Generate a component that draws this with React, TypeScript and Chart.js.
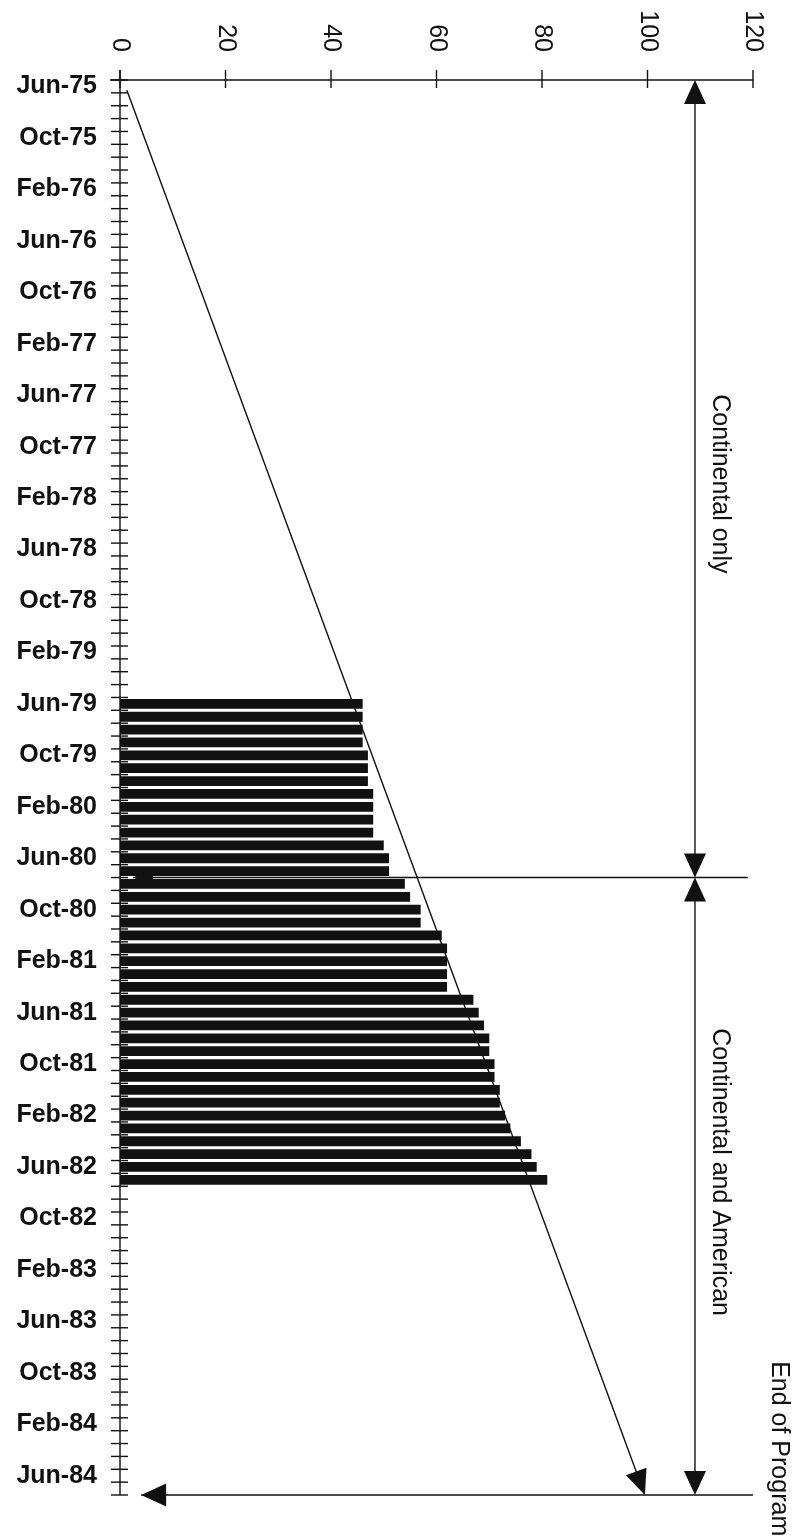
import React, { useEffect, useRef } from 'react';
import { Chart, registerables } from 'chart.js';

Chart.register(...registerables);

// ---- data ----
const MONTH_NAMES = ['Jan', 'Feb', 'Mar', 'Apr', 'May', 'Jun', 'Jul', 'Aug', 'Sep', 'Oct', 'Nov', 'Dec'];
const FIRST_MONTH = 5; // June
const FIRST_YEAR = 75;
const MONTH_COUNT = 110; // Jun-75 .. Jul-84
const months: string[] = [];
for (let i = 0; i < MONTH_COUNT; i++) {
  const k = FIRST_MONTH + i;
  months.push(`${MONTH_NAMES[k % 12]}-${FIRST_YEAR + Math.floor(k / 12)}`);
}
const LABEL_EVERY = 4;

const barStartMonth = 'Jun-79';
const barValues = [
  46, 46, 46, 46, 47, 47, 47, 48, 48, 48, 48, 50, 51, 51, 54, 55, 57, 57, 61,
  62, 62, 62, 62, 67, 68, 69, 70, 70, 71, 71, 72, 72, 73, 74, 76, 78, 79, 81,
];

const xTicks = [0, 20, 40, 60, 80, 100, 120];

// straight-line target (value, month index on the time axis)
const targetLine = [
  { x: 1.3, y: 0.3 },
  { x: 99.5, y: 109.5 },
];

// phase annotations (time axis positions in month-index units)
const phaseSplit = 61.5; // between Jul-80 and Aug-80
const programEnd = 109.5;
const phaseArrowX = 109;
const phaseLabels = [
  { text: 'Continental only', x: 113.7, y: 30.9 },
  { text: 'Continental and American', x: 113.7, y: 84.4 },
  { text: 'End of Program', x: 124.9, y: 105.9 },
];

const INK = '#111111';
const FONT = "'Liberation Sans', Arial, Helvetica, sans-serif";

function arrowHead(ctx: CanvasRenderingContext2D, tx: number, ty: number, fx: number, fy: number, len: number, wid: number) {
  const dx = tx - fx;
  const dy = ty - fy;
  const d = Math.hypot(dx, dy) || 1;
  const ux = dx / d;
  const uy = dy / d;
  const bx = tx - ux * len;
  const by = ty - uy * len;
  const nx = -uy * (wid / 2);
  const ny = ux * (wid / 2);
  ctx.beginPath();
  ctx.moveTo(tx, ty);
  ctx.lineTo(bx + nx, by + ny);
  ctx.lineTo(bx - nx, by - ny);
  ctx.closePath();
  ctx.fill();
}

const annotationPlugin = {
  id: 'annotations',
  afterDatasetsDraw(chart: any) {
    const ctx: CanvasRenderingContext2D = chart.ctx;
    const xs = chart.scales.x;
    const ys = chart.scales.y;
    const X = (v: number) => xs.getPixelForValue(v);
    const Y = (v: number) => ys.getPixelForValue(v);
    const seg = (x1: number, y1: number, x2: number, y2: number) => {
      ctx.beginPath();
      ctx.moveTo(x1, y1);
      ctx.lineTo(x2, y2);
      ctx.stroke();
    };
    ctx.save();
    ctx.strokeStyle = INK;
    ctx.fillStyle = INK;
    ctx.lineWidth = 1.4;

    const top = Y(-0.5);
    const x0 = X(0);
    // top value axis
    seg(x0 - 10, top, X(120), top);
    xTicks.forEach((v) => seg(X(v), top - 10, X(v), top + 8));
    // left time axis with month ticks
    seg(x0, top - 10, x0, Y(programEnd));
    for (let i = 0; i <= months.length; i++) {
      const yy = Y(i - 0.5);
      seg(x0 - 9, yy, x0 + 8, yy);
    }
    // value tick labels (rotated)
    ctx.font = `25px ${FONT}`;
    ctx.textAlign = 'right';
    ctx.textBaseline = 'middle';
    xTicks.forEach((v) => {
      ctx.save();
      ctx.translate(X(v), top - 28);
      ctx.rotate(Math.PI / 2);
      ctx.fillText(String(v), 0, 0);
      ctx.restore();
    });

    // target arrow head
    const p0 = targetLine[0];
    const p1 = targetLine[targetLine.length - 1];
    arrowHead(ctx, X(p1.x), Y(p1.y), X(p0.x), Y(p0.y), 25, 22);

    // phase split line with left arrow
    const ySplit = Y(phaseSplit);
    seg(X(2.5), ySplit, X(119), ySplit);
    arrowHead(ctx, X(2.5), ySplit, X(10), ySplit, 20, 18);

    // end-of-program line with left arrow
    const yEnd = Y(programEnd);
    seg(X(4), yEnd, X(120), yEnd);
    arrowHead(ctx, X(4), yEnd, X(12), yEnd, 25, 23);

    // double-headed phase arrows
    const ax = X(phaseArrowX);
    seg(ax, top + 10, ax, ySplit - 10);
    arrowHead(ctx, ax, top, ax, top + 30, 24, 22);
    arrowHead(ctx, ax, ySplit, ax, ySplit - 30, 24, 22);
    seg(ax, ySplit + 10, ax, yEnd - 10);
    arrowHead(ctx, ax, ySplit, ax, ySplit + 30, 24, 22);
    arrowHead(ctx, ax, yEnd, ax, yEnd - 30, 24, 22);

    // phase labels (rotated)
    ctx.textAlign = 'center';
    phaseLabels.forEach((l) => {
      ctx.save();
      ctx.translate(X(l.x), Y(l.y));
      ctx.rotate(Math.PI / 2);
      ctx.fillText(l.text, 0, 0);
      ctx.restore();
    });
    ctx.restore();
  },
};

export default function App() {
  const ref = useRef<HTMLCanvasElement | null>(null);
  useEffect(() => {
    if (!ref.current) return;
    const startIdx = months.indexOf(barStartMonth);
    const barData = barValues.map((v, k) => ({ x: v, y: startIdx + k }));
    const chart = new Chart(ref.current, {
      type: 'bar',
      data: {
        datasets: [
          {
            type: 'bar',
            data: barData,
            xAxisID: 'x',
            yAxisID: 'y',
            backgroundColor: INK,
            borderWidth: 0,
            barPercentage: 0.76,
            categoryPercentage: 1,
          } as any,
          {
            type: 'line',
            data: targetLine,
            xAxisID: 'x',
            yAxisID: 'y',
            borderColor: INK,
            borderWidth: 1.4,
            pointRadius: 0,
            fill: false,
          } as any,
        ],
      },
      options: {
        indexAxis: 'y',
        responsive: false,
        animation: false,
        layout: { padding: { left: 0, top: 80, right: 39, bottom: 44 } },
        plugins: { legend: { display: false }, tooltip: { enabled: false } },
        scales: {
          x: { type: 'linear', position: 'top', min: 0, max: 120, display: false },
          y: {
            type: 'linear',
            position: 'left',
            min: -0.5,
            max: MONTH_COUNT - 0.5,
            offset: false,
            bounds: 'data',
            reverse: true,
            grid: { display: false, drawTicks: false, offset: false },
            border: { display: false },
            afterBuildTicks: (s: any) => {
              s.ticks = months
                .map((_, i) => ({ value: i }))
                .filter((t) => t.value % LABEL_EVERY === 0);
            },
            afterFit: (s: any) => {
              s.width = 120;
              s.paddingTop = 0;
              s.paddingBottom = 0;
            },
            ticks: {
              autoSkip: false,
              padding: 23,
              color: INK,
              font: { family: FONT, size: 25, weight: 'bold' },
              callback: (v: any) => months[v] ?? '',
            },
          },
        },
      } as any,
      plugins: [annotationPlugin],
    });
    return () => chart.destroy();
  }, []);
  return (
    <div style={{ position: 'absolute', left: 0, top: 0, width: 792, height: 1539, background: '#fff' }}>
      <canvas ref={ref} width={792} height={1539} style={{ display: 'block' }} />
    </div>
  );
}
